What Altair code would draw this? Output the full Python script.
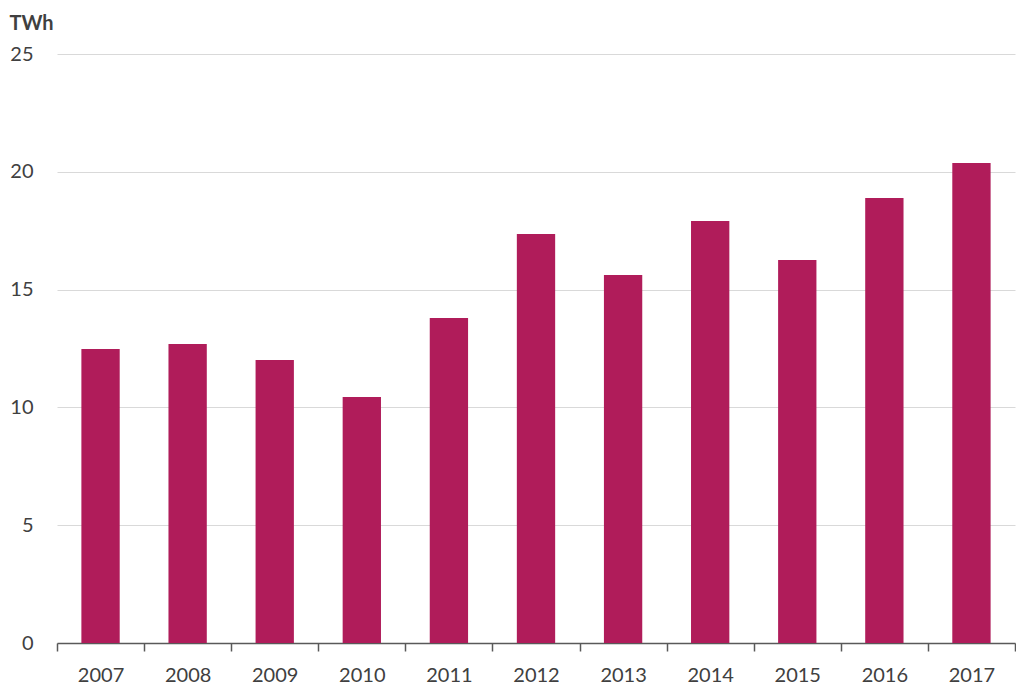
import altair as alt
import pandas as pd

years = ["2007", "2008", "2009", "2010", "2011", "2012", "2013", "2014", "2015", "2016", "2017"]
twh = [12.48, 12.69, 12.01, 10.44, 13.79, 17.36, 15.62, 17.91, 16.26, 18.89, 20.37]
y_ticks = [0, 5, 10, 15, 20, 25]

df = pd.DataFrame({"year": years, "twh": twh})

FONT = "Lato"

chart = (
    alt.Chart(df)
    .mark_bar(color="#B01C5A", width=alt.RelativeBandSize(0.44))
    .encode(
        x=alt.X(
            "year:N",
            sort=years,
            scale=alt.Scale(paddingInner=0, paddingOuter=0),
            axis=alt.Axis(
                title=None,
                labelAngle=0,
                tickBand="extent",
                tickSize=8,
                tickColor="#595959",
                tickWidth=1.5,
                domainColor="#595959",
                domainWidth=1.5,
                labelFont=FONT,
                labelFontSize=20,
                labelColor="#404040",
                labelBaseline="alphabetic",
                labelPadding=30,
                grid=False,
            ),
        ),
        y=alt.Y(
            "twh:Q",
            scale=alt.Scale(domain=[0, 25], nice=False),
            axis=alt.Axis(
                values=y_ticks,
                title="TWh",
                titleAngle=0,
                titleAlign="left",
                titleBaseline="alphabetic",
                titleX=-48,
                titleY=-25,
                titleFont=FONT,
                titleFontSize=20,
                titleFontWeight="bold",
                titleColor="#404040",
                domain=False,
                ticks=False,
                labelFont=FONT,
                labelFontSize=20,
                labelColor="#404040",
                labelPadding=24,
                gridColor="#d9d9d9",
                gridWidth=1,
            ),
        ),
    )
    .properties(
        width=958,
        height=589,
        background="white",
        autosize=alt.AutoSizeParams(type="none"),
        padding={"left": 49, "top": 46, "right": 1, "bottom": 45},
    )
    .configure_view(strokeWidth=0)
)

chart.save("out.html", embed_options={"renderer": "svg", "actions": False})
